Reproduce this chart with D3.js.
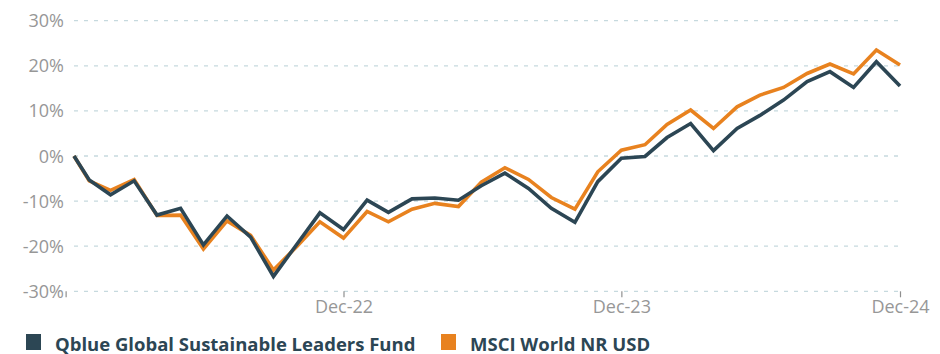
<!DOCTYPE html>
<html>
<head>
<meta charset="utf-8">
<script src="https://cdn.jsdelivr.net/npm/d3@7"></script>
<style>
  html, body { margin: 0; padding: 0; background: #fff; }
  svg { display: block; font-family: "Open Sans", "Noto Sans", sans-serif; }
</style>
</head>
<body>
<svg id="chart" width="940" height="354"></svg>
<script>
// Observation dates: inception, then month ends
const dates = [
  "2022-01-11", "2022-01-31", "2022-02-28", "2022-03-31", "2022-04-30", "2022-05-31",
  "2022-06-30", "2022-07-31", "2022-08-31", "2022-09-30", "2022-10-31", "2022-11-30",
  "2022-12-31", "2023-01-31", "2023-02-28", "2023-03-31", "2023-04-30", "2023-05-31",
  "2023-06-30", "2023-07-31", "2023-08-31", "2023-09-30", "2023-10-31", "2023-11-30",
  "2023-12-31", "2024-01-31", "2024-02-29", "2024-03-31", "2024-04-30", "2024-05-31",
  "2024-06-30", "2024-07-31", "2024-08-31", "2024-09-30", "2024-10-31", "2024-11-30",
  "2024-12-31"
];

// Cumulative return, %
const fundValues = [
  0, -5.3, -8.6, -5.5, -13.1, -11.6,
  -19.7, -13.3, -18.0, -26.7, -19.5, -12.6,
  -16.3, -9.8, -12.5, -9.5, -9.3, -9.8,
  -6.6, -3.8, -7.2, -11.6, -14.7, -5.7,
  -0.5, -0.1, 4.1, 7.2, 1.2, 6.1,
  9.0, 12.4, 16.5, 18.7, 15.2, 20.9,
  15.5
];
const benchmarkValues = [
  0, -5.5, -7.6, -5.2, -13.2, -13.1,
  -20.6, -14.4, -17.6, -25.3, -20.0, -14.6,
  -18.2, -12.3, -14.6, -11.8, -10.5, -11.2,
  -5.8, -2.6, -5.2, -9.2, -11.8, -3.5,
  1.3, 2.5, 7.0, 10.2, 6.1, 10.9,
  13.5, 15.2, 18.3, 20.4, 18.2, 23.5,
  20.2
];

const yTicks = [30, 20, 10, 0, -10, -20, -30];
const xTickDates = ["2021-12-31", "2022-12-31", "2023-12-31", "2024-12-31"];
const xTickLabels = ["", "Dec-22", "Dec-23", "Dec-24"];

const seriesNames = ["Qblue Global Sustainable Leaders Fund", "MSCI World NR USD"];
const seriesColors = ["#2c4654", "#e8821f"];

const parse = d3.timeParse("%Y-%m-%d");
const svg = d3.select("#chart");

const x = d3.scaleTime()
  .domain([parse(dates[0]), parse(dates[dates.length - 1])])
  .range([74, 900]);
const y = d3.scaleLinear().domain([-30, 30]).range([291.3, 20.7]);

// Horizontal dashed grid
svg.append("g")
  .selectAll("line")
  .data(yTicks)
  .join("line")
  .attr("x1", 74).attr("x2", 900)
  .attr("y1", d => y(d)).attr("y2", d => y(d))
  .attr("stroke", "#c6d9de")
  .attr("stroke-width", 1.3)
  .attr("stroke-dasharray", "4,6");

// Y axis labels
svg.append("g")
  .selectAll("text")
  .data(yTicks)
  .join("text")
  .attr("x", 64)
  .attr("y", d => y(d) + 6.5)
  .attr("text-anchor", "end")
  .attr("fill", "#979797")
  .attr("font-size", 18)
  .text(d => d + "%");

// X axis ticks and labels
const xAxis = d3.axisBottom(x)
  .tickValues(xTickDates.map(parse))
  .tickSize(6)
  .tickPadding(3)
  .tickFormat((d, i) => xTickLabels[i]);
const gx = svg.append("g")
  .attr("transform", `translate(0,${y(-30)})`)
  .call(xAxis);
gx.select(".domain").remove();
gx.selectAll(".tick line").attr("stroke", "#8f8f8f").attr("stroke-width", 1.2);
gx.selectAll(".tick text")
  .attr("fill", "#979797")
  .attr("font-size", 18)
  .attr("font-family", "\"Open Sans\", sans-serif");

// Lines: benchmark underneath, fund on top
const allSeries = [benchmarkValues, fundValues];
const allColors = [seriesColors[1], seriesColors[0]];
const line = d3.line()
  .x((d, i) => x(parse(dates[i])))
  .y(d => y(d));

svg.append("g")
  .selectAll("path")
  .data(allSeries)
  .join("path")
  .attr("d", d => line(d))
  .attr("fill", "none")
  .attr("stroke", (d, i) => allColors[i])
  .attr("stroke-width", 3.6)
  .attr("stroke-linejoin", "miter")
  .attr("stroke-linecap", "butt");

// Legend
const legendX = [26, 441];
const legend = svg.append("g");
seriesNames.forEach((name, i) => {
  legend.append("rect")
    .attr("x", legendX[i]).attr("y", 334)
    .attr("width", 15).attr("height", 16)
    .attr("fill", seriesColors[i]);
  legend.append("text")
    .attr("x", legendX[i] + 29).attr("y", 350.5)
    .attr("fill", "#2c4654")
    .attr("font-size", 18.5)
    .attr("font-weight", 700)
    .text(name);
});
</script>
</body>
</html>
